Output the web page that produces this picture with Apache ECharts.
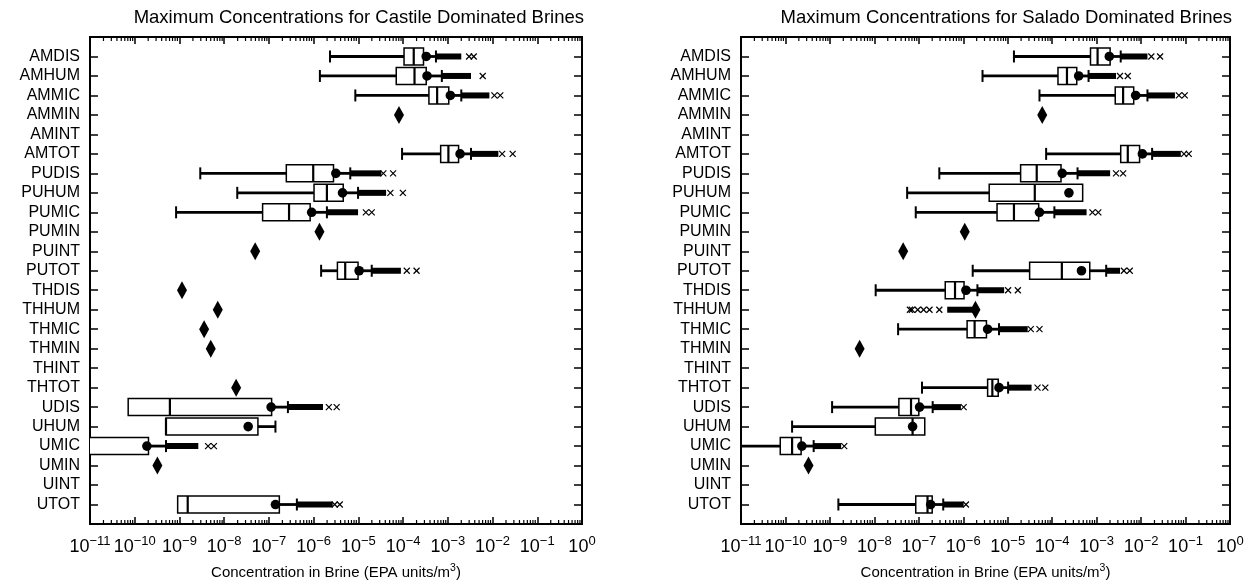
<!DOCTYPE html>
<html><head><meta charset="utf-8">
<script src="https://cdn.jsdelivr.net/npm/echarts@6/dist/echarts.min.js"></script>
<style>html,body{margin:0;padding:0;background:#fff}#c{width:1255px;height:582px}</style>
</head><body><div id="c"></div>
<script>
// ---------- data ----------
const categories = ['AMDIS','AMHUM','AMMIC','AMMIN','AMINT','AMTOT','PUDIS','PUHUM','PUMIC','PUMIN','PUINT','PUTOT',
  'THDIS','THHUM','THMIC','THMIN','THINT','THTOT','UDIS','UHUM','UMIC','UMIN','UINT','UTOT'];
const tickExponents = [-11,-10,-9,-8,-7,-6,-5,-4,-3,-2,-1,0];

// Castile dominated brines
const castileMin    = [2.32e-6,1.38e-6,8.55e-6,null,null,9.48e-5,2.92e-9,1.96e-8,8.41e-10,null,null,1.47e-6,
  null,null,null,null,null,null,7.14e-11,5.0e-10,3.2e-12,null,null,9.12e-10];
const castileQ1     = [1.05e-4,7.03e-5,3.78e-4,null,null,6.92e-4,2.45e-7,1.02e-6,7.23e-8,null,null,3.40e-6,
  null,null,null,null,null,null,7.14e-11,5.0e-10,3.2e-12,null,null,9.12e-10];
const castileMedian = [1.73e-4,1.80e-4,5.77e-4,null,null,1.03e-3,9.79e-7,1.98e-6,2.82e-7,null,null,5.08e-6,
  null,null,null,null,null,null,6.11e-10,5.0e-10,5.0e-12,null,null,1.53e-9];
const castileQ3     = [2.86e-4,3.29e-4,1.05e-3,null,null,1.74e-3,2.78e-6,4.59e-6,8.36e-7,null,null,9.84e-6,
  null,null,null,null,null,null,1.15e-7,5.68e-8,2.03e-10,null,null,1.71e-7];
const castileHigh   = [5.43e-4,7.35e-4,2.0e-3,null,null,3.30e-3,6.59e-6,9.84e-6,1.98e-6,null,null,1.99e-5,
  null,null,null,null,null,null,2.66e-7,1.40e-7,5.0e-10,null,null,4.22e-7];
const castileMean   = [3.29e-4,3.43e-4,1.14e-3,8.09e-5,null,1.88e-3,3.14e-6,4.42e-6,9.04e-7,1.35e-6,4.93e-8,1.04e-5,
  1.14e-9,7.19e-9,3.56e-9,5.01e-9,null,1.85e-8,1.12e-7,3.44e-8,1.87e-10,3.21e-10,null,1.40e-7];
const castileDense  = [[5.43e-4,2.0e-3],[7.35e-4,3.30e-3],[2.0e-3,8.49e-3],null,null,[3.30e-3,1.35e-2],
  [6.59e-6,3.28e-5],[9.84e-6,4.17e-5],[1.98e-6,9.84e-6],null,null,[1.99e-5,8.93e-5],
  null,null,null,null,null,null,[2.66e-7,1.62e-6],null,[5.0e-10,2.64e-9],null,null,[4.22e-7,2.67e-6]];
const castileOutliers = [[2.99e-3,3.80e-3],[6.03e-3],[1.10e-2,1.49e-2],[],[],[1.64e-2,2.82e-2],
  [3.62e-5,5.98e-5],[5.20e-5,9.89e-5],[1.47e-5,1.99e-5],[],[],[1.21e-4,2.0e-4],
  [],[],[],[],[],[],[2.19e-6,3.27e-6],[],[4.36e-9,5.89e-9],[],[],[2.95e-6,3.84e-6]];

// Salado dominated brines
const saladoMin    = [1.38e-5,2.71e-6,5.18e-5,null,null,7.31e-5,2.89e-7,5.46e-8,8.53e-8,null,null,1.63e-6,
  1.07e-8,null,3.42e-8,null,null,1.18e-7,1.12e-9,1.41e-10,3.2e-12,null,null,1.55e-9];
const saladoQ1     = [7.28e-4,1.35e-4,2.62e-3,null,null,3.48e-3,1.95e-5,3.83e-6,5.75e-6,null,null,3.11e-5,
  3.93e-7,null,1.22e-6,null,null,3.53e-6,3.56e-8,1.05e-8,7.64e-11,null,null,8.53e-8];
const saladoMedian = [1.05e-3,2.15e-4,3.94e-3,null,null,5.02e-3,4.49e-5,4.06e-5,1.38e-5,null,null,1.65e-4,
  6.52e-7,null,1.80e-6,null,null,4.51e-6,6.68e-8,7.24e-8,1.41e-10,null,null,1.57e-7];
const saladoQ3     = [2.01e-3,3.57e-4,6.82e-3,null,null,9.25e-3,1.58e-4,4.85e-4,4.97e-5,null,null,7.0e-4,
  1.04e-6,null,3.32e-6,null,null,6.11e-6,1.0e-7,1.36e-7,2.25e-10,null,null,2.0e-7];
const saladoHigh   = [3.48e-3,6.58e-4,1.39e-2,null,null,1.77e-2,3.72e-4,4.85e-4,1.12e-4,null,null,1.64e-3,
  2.08e-6,null,6.37e-6,null,null,1.02e-5,2.05e-7,1.36e-7,4.31e-10,null,null,3.54e-7];
const saladoMean   = [1.93e-3,3.95e-4,7.55e-3,5.97e-5,null,1.07e-2,1.68e-4,2.38e-4,5.18e-5,1.08e-6,4.45e-8,4.56e-4,
  1.15e-6,1.88e-6,3.53e-6,4.66e-9,null,6.37e-6,1.04e-7,7.24e-8,2.34e-10,3.30e-10,null,1.85e-7];
const saladoDense  = [[3.48e-3,1.39e-2],[6.58e-4,2.73e-3],[1.39e-2,5.77e-2],null,null,[1.77e-2,7.83e-2],
  [3.72e-4,2.01e-3],null,[1.12e-4,5.94e-4],null,null,[1.64e-3,3.35e-3],
  [2.08e-6,8.30e-6],[4.35e-7,1.88e-6],[6.37e-6,2.81e-5],null,null,[1.02e-5,3.44e-5],
  [2.05e-7,8.85e-7],null,[4.31e-10,1.79e-9],null,null,[3.54e-7,1.02e-6]];
const saladoOutliers = [[1.70e-2,2.67e-2],[3.35e-3,5.02e-3],[7.08e-2,9.59e-2],[],[],[9.23e-2,0.118],
  [2.73e-3,3.94e-3],[],[8.05e-4,1.09e-3],[],[],[4.10e-3,5.57e-3],
  [1.02e-5,1.69e-5],[6.30e-8,6.97e-8,9.44e-8,1.28e-7,1.74e-7,2.89e-7],[3.30e-5,5.18e-5],[],[],[4.68e-5,7.01e-5],
  [1.02e-6],[],[2.10e-9],[],[],[1.15e-6]];

// ---------- chart ----------
const FONT = '"Liberation Sans", Arial, Helvetica, sans-serif';
const castile = {min:castileMin,q1:castileQ1,med:castileMedian,q3:castileQ3,high:castileHigh,mean:castileMean,dense:castileDense,out:castileOutliers};
const salado  = {min:saladoMin,q1:saladoQ1,med:saladoMedian,q3:saladoQ3,high:saladoHigh,mean:saladoMean,dense:saladoDense,out:saladoOutliers};

function ln(x1,y1,x2,y2,w){return {type:'line',shape:{x1,y1,x2,y2},style:{stroke:'#000',lineWidth:w}};}

function boxRender(p){
  return function(params, api){
    const i = api.value(1);
    const y = api.coord([1, i])[1];
    const X = v => api.coord([v, i])[0];
    const ch = [];
    const lw = 2.8, H = 8.5, capH = 6;
    if (p.q1[i] != null){
      const xmin=X(p.min[i]), xq1=X(p.q1[i]), xmed=X(p.med[i]), xq3=X(p.q3[i]), xhi=X(p.high[i]);
      if (xq1 - xmin > 0.5){ ch.push(ln(xmin,y,xq1,y,lw)); ch.push(ln(xmin,y-capH,xmin,y+capH,2)); }
      if (xhi - xq3 > 0.5){ ch.push(ln(xq3,y,xhi,y,lw)); ch.push(ln(xhi,y-capH,xhi,y+capH,2)); }
      ch.push({type:'rect',shape:{x:xq1,y:y-H,width:Math.max(xq3-xq1,1),height:2*H},style:{fill:'#fff',stroke:'#000',lineWidth:1.5}});
      ch.push(ln(xmed,y-H,xmed,y+H,2.2));
    }
    if (p.dense[i]){
      const a=X(p.dense[i][0]), b=X(p.dense[i][1]);
      ch.push({type:'rect',shape:{x:a,y:y-3,width:b-a,height:6},style:{fill:'#000'}});
    }
    (p.out[i]||[]).forEach(v=>{
      const x=X(v);
      ch.push(ln(x-3,y-3,x+3,y+3,1.2)); ch.push(ln(x-3,y+3,x+3,y-3,1.2));
    });
    if (p.mean[i] != null){
      const xm = X(p.mean[i]);
      if (p.q1[i] == null) ch.push({type:'polygon',shape:{points:[[xm,y-9],[xm+5,y],[xm,y+9],[xm-5,y]]},style:{fill:'#000'}});
      else ch.push({type:'circle',shape:{cx:xm,cy:y,r:4.8},style:{fill:'#000'}});
    }
    return {type:'group',children:ch};
  };
}

// minor tick positions 2..9 x 10^k of the log axis
const minorTicks = [];
for (let e = tickExponents[0]; e < tickExponents[tickExponents.length-1]; e++)
  for (let m = 2; m <= 9; m++) minorTicks.push([m * Math.pow(10, e), 0]);

function minorRender(params, api){
  const cs = params.coordSys;
  const x = api.coord([api.value(0), 0])[0];
  const yb = cs.y + cs.height, yt = cs.y;
  return {type:'group',children:[ln(x,yb,x,yb-4,1.2), ln(x,yt,x,yt+4,1.2)]};
}

function xLabel(v){
  const e = Math.round(Math.log10(v));
  if (!tickExponents.includes(e)) return '';
  return '{b|10}{s|' + (e < 0 ? '\u2212' + (-e) : e) + '}';
}

const grids = [
  {left:90, right:673, top:37, bottom:58},
  {left:741, right:25, top:37, bottom:58}
];

const xAxes = [], yAxes = [];
grids.forEach((g, gi) => {
  xAxes.push({type:'log', logBase:10, gridIndex:gi, position:'bottom', min:1e-11, max:1, interval:1,
    axisLine:{show:false, onZero:false}, splitLine:{show:false},
    axisTick:{inside:true, length:7, lineStyle:{color:'#000', width:1.5}},
    axisLabel:{formatter:xLabel, margin:11, color:'#000', hideOverlap:false, showMinLabel:true, showMaxLabel:true,
      rich:{b:{fontSize:18, fontFamily:FONT, color:'#000'}, s:{fontSize:13, fontFamily:FONT, color:'#000', padding:[0,0,12,0]}}},
    name:'Concentration in Brine (EPA units/m{sup|3})', nameLocation:'middle', nameGap:39,
    nameTextStyle:{fontSize:15, fontFamily:FONT, color:'#000', rich:{sup:{fontSize:10.5, fontFamily:FONT, color:'#000', padding:[0,0,9,0]}}}
  });
  xAxes.push({type:'log', logBase:10, gridIndex:gi, position:'top', min:1e-11, max:1, interval:1,
    axisLine:{show:false, onZero:false}, splitLine:{show:false}, axisLabel:{show:false},
    axisTick:{inside:true, length:7, lineStyle:{color:'#000', width:1.5}}});
  yAxes.push({type:'value', gridIndex:gi, position:'left', inverse:true, min:-1, max:24, interval:1,
    axisLine:{show:false, onZero:false}, splitLine:{show:false},
    axisTick:{inside:true, length:8, lineStyle:{color:'#000', width:1.5}},
    axisLabel:{formatter:v => categories[v] || '', margin:10, color:'#000', fontSize:16, fontFamily:FONT}});
  yAxes.push({type:'value', gridIndex:gi, position:'right', inverse:true, min:-1, max:24, interval:1,
    axisLine:{show:false, onZero:false}, splitLine:{show:false}, axisLabel:{show:false},
    axisTick:{inside:true, length:8, lineStyle:{color:'#000', width:1.5}}});
});

const series = [];
[castile, salado].forEach((p, gi) => {
  series.push({type:'custom', xAxisIndex:gi*2, yAxisIndex:gi*2, data:minorTicks, renderItem:minorRender, silent:true, z:3});
  const rows = [];
  categories.forEach((c, i) => { if (p.mean[i] != null) rows.push([p.mean[i], i]); });
  series.push({type:'custom', xAxisIndex:gi*2, yAxisIndex:gi*2, data:rows, encode:{x:0, y:1},
    renderItem:boxRender(p), clip:true, silent:true, z:4});
});

const chart = echarts.init(document.getElementById('c'), null, {renderer:'canvas'});
chart.setOption({
  animation:false,
  backgroundColor:'#fff',
  textStyle:{fontFamily:FONT},
  title:[
    {text:'Maximum Concentrations for Castile Dominated Brines', right:671, top:8, padding:0,
      textStyle:{fontSize:18.5, fontWeight:'normal', color:'#000', fontFamily:FONT}},
    {text:'Maximum Concentrations for Salado Dominated Brines', right:23, top:8, padding:0,
      textStyle:{fontSize:18.5, fontWeight:'normal', color:'#000', fontFamily:FONT}}
  ],
  grid: grids.map(g => Object.assign({show:true, borderColor:'#000', borderWidth:2, backgroundColor:'transparent',
    containLabel:false, outerBoundsMode:'none'}, g)),
  xAxis:xAxes,
  yAxis:yAxes,
  series:series
});
</script></body></html>
